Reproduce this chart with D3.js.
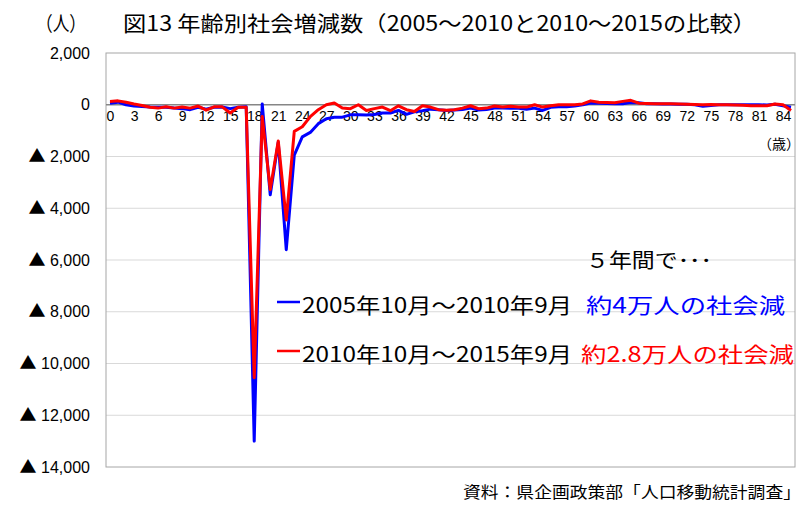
<!DOCTYPE html>
<html><head><meta charset="utf-8">
<script src="https://cdn.jsdelivr.net/npm/d3@7"></script>
<style>body{margin:0;background:#fff}svg{display:block}</style>
</head><body>
<svg id="c" width="803" height="506"></svg>
<script>
const ages = d3.range(0, 86);
const series1Label = "2005年10月～2010年9月";
const series2Label = "2010年10月～2015年9月";
const series1 = [60,100,0,-50,-70,-90,-100,-100,-130,-150,-190,-100,-170,-100,-90,-150,-100,-80,
  -13000,30,-3480,-1450,-5600,-1950,-1240,-1070,-730,-540,-480,-480,-390,-390,-400,-380,-320,-320,
  -220,-370,-270,-230,-170,-190,-220,-200,-180,-130,-200,-180,-130,-130,-140,-140,-170,-130,-220,
  -100,-80,-80,-50,0,70,60,50,40,40,90,80,40,40,30,30,20,20,0,-60,-30,0,0,0,0,0,0,-10,20,-40,-100];
const series2 = [130,150,100,30,-30,-100,-130,-80,-130,-90,-130,-50,-210,-80,-80,-320,-100,-100,
  -10550,-450,-3280,-1400,-4450,-1030,-850,-460,-190,0,70,-130,-150,0,-220,-150,-90,-230,
  -40,-190,-260,-40,-90,-190,-210,-190,-130,-40,-150,-130,-50,-90,-60,-90,-90,0,-90,
  -40,0,0,0,30,150,100,90,80,130,170,60,50,40,40,40,30,20,10,0,10,0,0,-10,-20,-40,-40,-40,30,0,-220];
const yTicks = [2000,0,-2000,-4000,-6000,-8000,-10000,-12000,-14000];
const xTickAges = d3.range(0, 85, 3);
const titleText = "図13 年齢別社会増減数（2005～2010と2010～2015の比較）";
const unitText = "（人）";
const xUnitText = "（歳）";
const note0 = "５年間で･･･";
const note1 = "約4万人の社会減";
const note2 = "約2.8万人の社会減";
const sourceText = "資料：県企画政策部「人口移動統計調査」";

const svg = d3.select("#c");
const L = 106, R = 795, T = 53, B = 467;
const x = d3.scalePoint().domain(ages).range([L, R]).padding(0.5);
const y = d3.scaleLinear().domain([-14000, 2000]).range([B, T]);
const jp = "'Noto Sans CJK JP','Noto Sans',sans-serif";
const lat = "'Liberation Sans',Arial,sans-serif";

// gridlines
svg.append("g").selectAll("line").data(yTicks.filter(v => v < 2000 && v > -14000 && v !== 0)).join("line")
  .attr("x1", L).attr("x2", R).attr("y1", d => y(d)).attr("y2", d => y(d))
  .attr("stroke", "#d9d9d9").attr("stroke-width", 1);
// border
svg.append("rect").attr("x", L).attr("y", T).attr("width", R - L).attr("height", B - T)
  .attr("fill", "none").attr("stroke", "#a6a6a6").attr("stroke-width", 1);
// zero axis
svg.append("line").attr("x1", L).attr("x2", R).attr("y1", y(0)).attr("y2", y(0))
  .attr("stroke", "#868686").attr("stroke-width", 1.5);

// y axis labels
const fmt = d3.format(",");
const yAxis = d3.axisLeft(y).tickValues(yTicks).tickSize(0).tickPadding(16)
  .tickFormat(v => fmt(Math.abs(v)));
const gy = svg.append("g").attr("transform", `translate(${L},0)`).call(yAxis);
gy.select(".domain").remove();
gy.selectAll("text").attr("font-family", lat).attr("font-size", 16).attr("fill", "#000")
  .each(function(v) {
    const t = d3.select(this);
    const s = fmt(Math.abs(v));
    t.text(null);
    if (v < 0) {
      t.append("tspan").attr("font-family", "'Noto Sans CJK JP',sans-serif").attr("font-size", 17).text("▲");
      t.append("tspan").text(" " + s);
    } else {
      t.append("tspan").text(s);
    }
  });

// x axis labels
const xAxis = d3.axisBottom(x).tickValues(xTickAges).tickSize(0).tickPadding(6);
const gx = svg.append("g").attr("transform", `translate(0,${y(0)})`).call(xAxis);
gx.select(".domain").remove();
gx.selectAll("text").attr("font-family", lat).attr("font-size", 14).attr("fill", "#000");

// lines
const line = d3.line().x((d, i) => x(ages[i])).y(d => y(d));
svg.append("path").datum(series1).attr("d", line).attr("fill", "none")
  .attr("stroke", "#0000ff").attr("stroke-width", 3).attr("stroke-linejoin", "round");
svg.append("path").datum(series2).attr("d", line).attr("fill", "none")
  .attr("stroke", "#ff0000").attr("stroke-width", 3).attr("stroke-linejoin", "round");

// texts
function txt(s, xx, yy, size, color, anchor, len, fam) {
  const t = svg.append("text").attr("x", xx).attr("y", yy).attr("font-size", size)
    .attr("font-family", fam || jp).attr("fill", color || "#000").attr("text-anchor", anchor || "start").text(s);
  if (len) t.attr("textLength", len).attr("lengthAdjust", "spacingAndGlyphs");
  return t;
}
txt(unitText, 36, 31, 20, "#000", "start", 50);
txt(titleText, 123, 31, 21, "#000", "start", 633);
txt(xUnitText, 758, 149, 14, "#000", "start");

// legend
svg.append("line").attr("x1", 277).attr("x2", 300).attr("y1", 302).attr("y2", 302).attr("stroke", "#0000ff").attr("stroke-width", 2.5);
svg.append("line").attr("x1", 277).attr("x2", 300).attr("y1", 351).attr("y2", 351).attr("stroke", "#ff0000").attr("stroke-width", 2.5);
txt(series1Label, 302, 313, 21, "#000", "start", 270);
txt(series2Label, 302, 362, 21, "#000", "start", 270);
txt(note0, 586, 268, 20, "#000", "start", 126);
txt(note1, 586, 313, 21, "#0000ff", "start", 199);
txt(note2, 581, 362, 21, "#ff0000", "start", 213);
txt(sourceText, 801, 498, 16, "#000", "end", 338);
</script>
</body></html>
